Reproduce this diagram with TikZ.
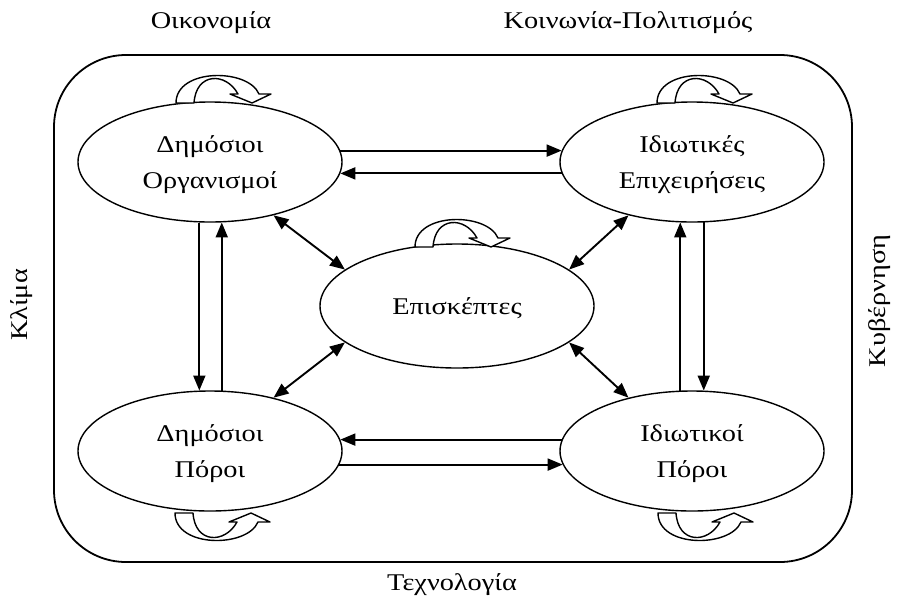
\documentclass[tikz,border=0pt]{standalone}
\usepackage{fontspec}
\setmainfont{Liberation Serif}[FakeStretch=1.18]
\usetikzlibrary{shapes.geometric,arrows.meta}

\tikzset{
  oval/.style={draw,ellipse,line width=1.4pt,minimum width=264pt,minimum height=120pt,inner sep=0pt,align=center,text depth=0pt,font=\fontsize{24}{36}\selectfont},
  rim/.style={font=\fontsize{24}{28}\selectfont},
  oneway/.style={-{Triangle[length=15pt,width=12pt]},line width=1.9pt},
  twoway/.style={{Triangle[length=15pt,width=12pt]}-{Triangle[length=15pt,width=12pt]},line width=1.9pt},
  pics/cyclearrow/.style={code={
    \filldraw[fill=white,draw=black,line width=1.4pt,line join=round] (0,0) .. controls (0,-35) and (72,-35) .. (83,-9) -- (95,-9) -- (76,0) -- (54,-9) -- (62,-9) .. controls (50,-31) and (20,-31) .. (18,0) -- cycle;}}
}

\begin{document}
\begin{tikzpicture}[x=1pt,y=-1pt]
      \useasboundingbox (0,0) rectangle (901,603);
      \draw[line width=1.8pt,rounded corners=72pt] (54,55) rectangle (852,562);
      % the five actors
      \node[oval] (dimorg) at (210,162) {Δημόσιοι\\Οργανισμοί};
      \node[oval] (idiep) at (692,162) {Ιδιωτικές\\Επιχειρήσεις};
      \node[oval,minimum width=274pt,minimum height=124pt] (episk) at (457,306) {Επισκέπτες};
      \node[oval] (dimpor) at (210,451) {Δημόσιοι\\Πόροι};
      \node[oval] (idipor) at (692,451) {Ιδιωτικοί\\Πόροι};
      \pic at (176,103) {cyclearrow};
      \pic at (657,103) {cyclearrow};
      \pic at (415,247) {cyclearrow};
      \pic[yscale=-1] at (175,513) {cyclearrow};
      \pic[yscale=-1] at (658,513) {cyclearrow};
      % flows
      \draw[oneway] (dimorg.5) -- (idiep.175);
      \draw[oneway] (idiep.185) -- (dimorg.355);
      \draw[oneway] (idipor.175) -- (dimpor.5);
      \draw[oneway] (dimpor.354) -- (idipor.186);
      \draw[oneway] (dimorg.260) -- (dimpor.100);
      \draw[oneway] (dimpor.79) -- (dimorg.281);
      \draw[oneway] (idipor.101) -- (idiep.259);
      \draw[oneway] (idiep.281) -- (idipor.79);
      \draw[twoway] (dimorg.320) -- (episk.162);
      \draw[twoway] (idiep.220) -- (episk.18);
      \draw[twoway] (dimpor.40) -- (episk.198);
      \draw[twoway] (idipor.140) -- (episk.342);
      % surroundings
      \node[rim] (oikon) at (211,23) {Οικονομία};
      \node[rim] (koin) at (628,23) {Κοινωνία-Πολιτισμός};
      \node[rim] (texn) at (452,585) {Τεχνολογία};
      \node[rim,rotate=90] (klima) at (22,305) {Κλίμα};
      \node[rim,rotate=90] (kyvern) at (880,301) {Κυβέρνηση};
    \end{tikzpicture}
\end{document}
